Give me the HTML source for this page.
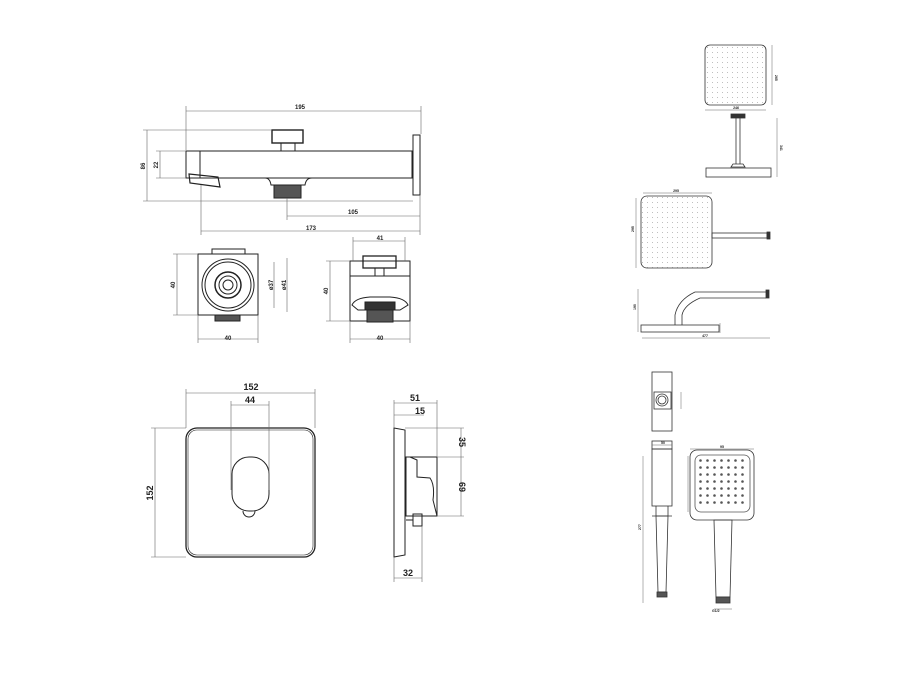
<!DOCTYPE html>
<html><head><meta charset="utf-8"><style>
html,body{margin:0;padding:0;background:#fff;}
svg{display:block}
text{font-family:"Liberation Sans",sans-serif;font-weight:bold;fill:#222}
</style></head><body>
<svg width="900" height="679" viewBox="0 0 900 679" xmlns="http://www.w3.org/2000/svg">
<defs>
<pattern id="dots" width="5" height="5" patternUnits="userSpaceOnUse"><circle cx="2.5" cy="2.5" r="0.5" fill="#aaa"/></pattern>
<pattern id="dots2" width="7" height="7" patternUnits="userSpaceOnUse" x="697" y="457"><circle cx="3.5" cy="3.5" r="1.3" fill="#555"/></pattern>
</defs>
<g fill="none" stroke="#222" stroke-width="1">
<rect x="186" y="151" width="226" height="27"/>
<rect x="413" y="135" width="7" height="60"/>
<rect x="272" y="130" width="31" height="13" stroke-width="1.4"/>
<rect x="281" y="143" width="14" height="8"/>
<path d="M189 174 L218 177 L220 187 L190 183 Z" stroke-width="1.2"/>
<path d="M265 178 Q270 178 271 185 L305 185 Q306 178 312 178"/>
<rect x="274" y="185" width="27" height="13" fill="#555"/>
<line x1="200" y1="151" x2="200" y2="178"/>
</g>
<g stroke="#666" stroke-width="0.6" fill="none">
<line x1="186" y1="111" x2="421" y2="111"/><line x1="186" y1="106" x2="186" y2="150"/><line x1="421" y1="106" x2="421" y2="134"/>
<line x1="147" y1="130" x2="147" y2="201"/><line x1="143" y1="130" x2="272" y2="130"/><line x1="143" y1="201" x2="413" y2="201"/>
<line x1="160" y1="151" x2="160" y2="178"/><line x1="156" y1="151" x2="186" y2="151"/><line x1="156" y1="178" x2="186" y2="178"/>
<line x1="287" y1="216" x2="420" y2="216"/><line x1="287" y1="198" x2="287" y2="220"/>
<line x1="201" y1="231" x2="420" y2="231"/><line x1="201" y1="185" x2="201" y2="235"/><line x1="420" y1="195" x2="420" y2="235"/>
</g>
<g font-size="6">
<text x="300" y="109" text-anchor="middle">195</text>
<text x="145" y="166" transform="rotate(-90 145 166)" text-anchor="middle">86</text>
<text x="158" y="165" transform="rotate(-90 158 165)" text-anchor="middle">22</text>
<text x="353" y="214" text-anchor="middle">105</text>
<text x="311" y="230" text-anchor="middle">173</text>
</g>
<g fill="none" stroke="#222">
<rect x="212" y="249" width="33" height="5"/>
<rect x="198" y="254" width="60" height="61"/>
<circle cx="228" cy="285" r="26"/><circle cx="228" cy="285" r="23"/>
<circle cx="228" cy="285" r="13" stroke-width="1.5"/><circle cx="228" cy="285" r="9"/><circle cx="228" cy="285" r="5"/>
<rect x="215" y="315" width="25" height="6" fill="#555"/>
<rect x="350" y="261" width="60" height="60"/>
<rect x="363" y="256" width="33" height="12" stroke-width="1.3"/>
<line x1="375" y1="268" x2="375" y2="276"/><line x1="384" y1="268" x2="384" y2="276"/>
<line x1="350" y1="276" x2="410" y2="276"/>
<path d="M352 305 Q355 298 370 297 L390 297 Q405 298 408 305 L400 310 L358 310 Z"/>
<rect x="365" y="302" width="30" height="8" fill="#333"/>
<rect x="367" y="310" width="26" height="12" fill="#555"/>
</g>
<g stroke="#666" stroke-width="0.6">
<line x1="177" y1="254" x2="177" y2="315"/><line x1="173" y1="254" x2="198" y2="254"/><line x1="173" y1="315" x2="198" y2="315"/>
<line x1="198" y1="339" x2="258" y2="339"/><line x1="198" y1="315" x2="198" y2="343"/><line x1="258" y1="315" x2="258" y2="343"/>
<line x1="274" y1="262" x2="274" y2="308"/><line x1="287" y1="258" x2="287" y2="312"/>
<line x1="353" y1="241" x2="405" y2="241"/><line x1="353" y1="237" x2="353" y2="261"/><line x1="405" y1="237" x2="405" y2="261"/>
<line x1="330" y1="261" x2="330" y2="321"/><line x1="326" y1="261" x2="350" y2="261"/><line x1="326" y1="321" x2="350" y2="321"/>
<line x1="350" y1="339" x2="410" y2="339"/><line x1="350" y1="321" x2="350" y2="343"/><line x1="410" y1="321" x2="410" y2="343"/>
</g>
<g font-size="6">
<text x="175" y="285" transform="rotate(-90 175 285)" text-anchor="middle">40</text>
<text x="228" y="340" text-anchor="middle">40</text>
<text x="273" y="285" transform="rotate(-90 273 285)" text-anchor="middle">ø37</text>
<text x="286" y="285" transform="rotate(-90 286 285)" text-anchor="middle">ø41</text>
<text x="380" y="240" text-anchor="middle">41</text>
<text x="328" y="291" transform="rotate(-90 328 291)" text-anchor="middle">40</text>
<text x="380" y="340" text-anchor="middle">40</text>
</g>
<g fill="none" stroke="#222">
<rect x="186" y="428" width="129" height="129" rx="11" stroke-width="1.3"/>
<rect x="188" y="430" width="125" height="125" rx="9" stroke-width="0.6"/>
<rect x="232" y="457" width="37" height="54" rx="17"/>
<path d="M243 511 A6 6 0 1 0 255 511"/>
<path d="M394 428 L405 430 L405 555 L394 557 Z"/>
<rect x="406" y="457" width="31" height="59"/>
<path d="M410 457 L417 460 L417 477 L430 478 Q435 485 433 500 L437 516"/>
<rect x="413" y="514" width="9" height="12"/>
<line x1="406" y1="520" x2="413" y2="520"/>
</g>
<g stroke="#666" stroke-width="0.6">
<line x1="186" y1="393" x2="315" y2="393"/><line x1="186" y1="389" x2="186" y2="428"/><line x1="315" y1="389" x2="315" y2="428"/>
<line x1="231" y1="405" x2="269" y2="405"/><line x1="231" y1="401" x2="231" y2="490"/><line x1="269" y1="401" x2="269" y2="490"/>
<line x1="155" y1="428" x2="155" y2="557"/><line x1="151" y1="428" x2="186" y2="428"/><line x1="151" y1="557" x2="186" y2="557"/>
<line x1="394" y1="403" x2="437" y2="403"/><line x1="394" y1="400" x2="394" y2="428"/><line x1="437" y1="400" x2="437" y2="457"/>
<line x1="394" y1="415" x2="424" y2="415"/>
<line x1="461" y1="428" x2="461" y2="516"/><line x1="405" y1="428" x2="464" y2="428"/><line x1="437" y1="457" x2="464" y2="457"/><line x1="437" y1="516" x2="464" y2="516"/>
<line x1="394" y1="578" x2="422" y2="578"/><line x1="394" y1="557" x2="394" y2="582"/><line x1="422" y1="526" x2="422" y2="582"/>
</g>
<g font-size="9">
<text x="251" y="390" text-anchor="middle">152</text>
<text x="250" y="403" text-anchor="middle">44</text>
<text x="153" y="493" transform="rotate(-90 153 493)" text-anchor="middle">152</text>
<text x="415" y="401" text-anchor="middle">51</text>
<text x="420" y="414" text-anchor="middle">15</text>
<text x="459" y="442" transform="rotate(90 459 442)" text-anchor="middle">35</text>
<text x="459" y="487" transform="rotate(90 459 487)" text-anchor="middle">69</text>
<text x="408" y="576" text-anchor="middle">32</text>
</g>
<g fill="none" stroke="#333" stroke-width="0.8">
<rect x="705" y="45" width="61" height="60" rx="5" fill="url(#dots)"/>
<rect x="731" y="114" width="14" height="4" fill="#333"/>
<line x1="736" y1="118" x2="736" y2="164"/><line x1="740" y1="118" x2="740" y2="164"/>
<path d="M733 164 L743 164 L745 167 L731 167 Z"/>
<rect x="706" y="168" width="65" height="9"/>
<rect x="641" y="196" width="71" height="72" rx="6" fill="url(#dots)"/>
<rect x="712" y="233" width="55" height="5"/>
<rect x="767" y="232" width="3" height="7" fill="#333"/>
<rect x="641" y="325" width="78" height="7"/>
<path d="M675 325 L675 315 Q678 300 695 292 L766 292 M682 325 L682 315 Q684 305 700 298 L766 298"/>
<rect x="766" y="290" width="3" height="8" fill="#333"/>
</g>
<g stroke="#666" stroke-width="0.5">
<line x1="772" y1="45" x2="772" y2="105"/><line x1="705" y1="110" x2="766" y2="110"/>
<line x1="777" y1="118" x2="777" y2="177"/>
<line x1="643" y1="193" x2="712" y2="193"/><line x1="636" y1="198" x2="636" y2="268"/>
<line x1="638" y1="289" x2="638" y2="332"/><line x1="642" y1="338" x2="770" y2="338"/><line x1="720" y1="323" x2="720" y2="333"/>
</g>
<g font-size="3.5">
<text x="775" y="75" transform="rotate(90 775 75)">265</text>
<text x="736" y="109" text-anchor="middle">246</text>
<text x="780" y="145" transform="rotate(90 780 145)">341</text>
<text x="676" y="192" text-anchor="middle">295</text>
<text x="634" y="232" transform="rotate(-90 634 232)">295</text>
<text x="636" y="310" transform="rotate(-90 636 310)">190</text>
<text x="705" y="337" text-anchor="middle">477</text>
</g>
<g fill="none" stroke="#333" stroke-width="0.8">
<rect x="652" y="372" width="20" height="59"/>
<rect x="654" y="392" width="17" height="17"/>
<circle cx="662" cy="400" r="6"/><circle cx="662" cy="400" r="4"/>
<rect x="652" y="441" width="20" height="8"/>
<rect x="652" y="449" width="20" height="57"/>
<path d="M656 516 L668 516 L666 592 L658 592 Z"/>
<line x1="652" y1="516" x2="672" y2="516"/><line x1="656" y1="506" x2="656" y2="516"/><line x1="668" y1="506" x2="668" y2="516"/>
<rect x="657" y="592" width="10" height="5" fill="#555"/>
<rect x="690" y="450" width="64" height="70" rx="7"/>
<rect x="695" y="455" width="55" height="57" rx="6" stroke="#555"/>
<rect x="697" y="457" width="50" height="50" fill="url(#dots2)" stroke="none"/>
<path d="M714 520 L732 520 L730 597 L716 597 Z"/>
<rect x="716" y="597" width="14" height="6" fill="#555"/>
</g>
<g stroke="#666" stroke-width="0.5">
<line x1="681" y1="392" x2="681" y2="409"/>
<line x1="652" y1="445" x2="672" y2="445"/>
<line x1="643" y1="456" x2="643" y2="603"/>
<line x1="690" y1="449" x2="754" y2="449"/><line x1="688" y1="456" x2="688" y2="512"/>
<line x1="714" y1="609" x2="732" y2="609"/>
</g>
<g font-size="3.5">
<text x="661" y="444">50</text><text x="641" y="530" transform="rotate(-90 641 530)">277</text>
<text x="720" y="448">95</text><text x="712" y="612">G1/2</text>
</g>
</svg>
</body></html>
